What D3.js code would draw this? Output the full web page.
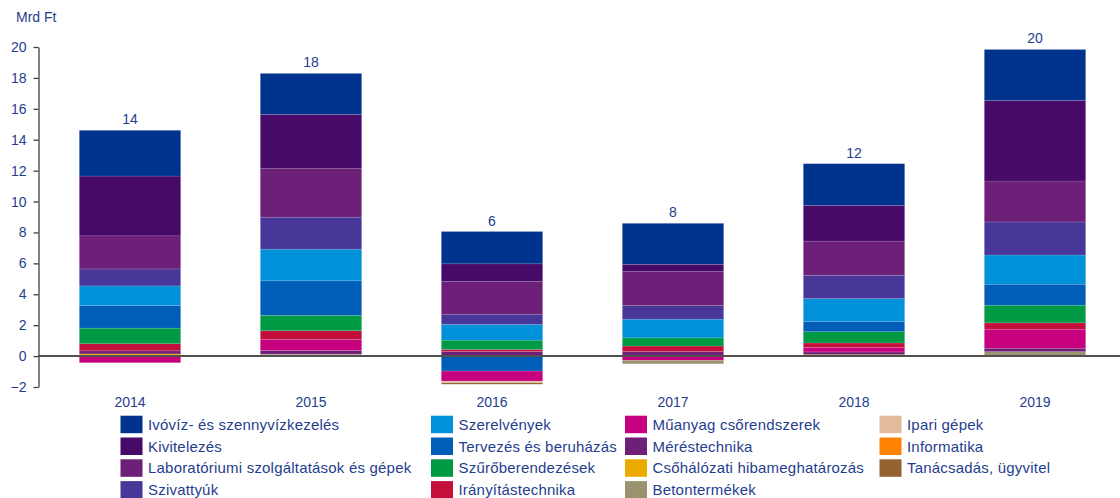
<!DOCTYPE html>
<html>
<head>
<meta charset="utf-8">
<script src="https://cdn.jsdelivr.net/npm/d3@7"></script>
<style>
	body { margin: 0; background: #fff; }
	svg { display: block; font-family: "Liberation Sans", Arial, sans-serif; }
</style>
</head>
<body>
<div id="chart"></div>
<script>
// years on the x axis
let years = ["2014", "2015", "2016", "2017", "2018", "2019"];

// series names, legend order (column by column)
let seriesNames = [
	"Ivóvíz- és szennyvízkezelés",
	"Kivitelezés",
	"Laboratóriumi szolgáltatások és gépek",
	"Szivattyúk",
	"Szerelvények",
	"Tervezés és beruházás",
	"Szűrőberendezések",
	"Irányítástechnika",
	"Műanyag csőrendszerek",
	"Méréstechnika",
	"Csőhálózati hibameghatározás",
	"Betontermékek",
	"Ipari gépek",
	"Informatika",
	"Tanácsadás, ügyvitel"
];

// values per series, Mrd Ft, 2014..2019
let ivoviz      = [2.96, 2.65, 2.09, 2.65, 2.70, 3.30];
let kivitelezes = [3.87, 3.51, 1.14, 0.45, 2.31, 5.21];
let labor       = [2.14, 3.14, 2.12, 2.22, 2.21, 2.65];
let szivattyuk  = [1.10, 2.07, 0.66, 0.88, 1.51, 2.14];
let szerelvenyek = [1.26, 2.05, 1.02, 1.21, 1.47, 1.89];
let tervezes    = [1.47, 2.24, -0.97, 0, 0.67, 1.36];
let szuro       = [1.01, 0.99, 0.60, 0.53, 0.73, 1.14];
let iranyitas   = [0.46, 0.56, 0.13, 0.35, 0.30, 0.41];
let muanyag     = [-0.43, 0.71, -0.65, -0.28, 0.28, 1.23];
let meres       = [0.20, 0.24, 0.30, 0.30, 0.15, 0.22];
let csohalozati = [0.12, 0, 0, 0, 0, 0];
let beton       = [0.02, 0.05, 0, -0.22, 0, 0.25];
let ipari       = [0, 0, -0.11, 0, 0, 0.04];
let informatika = [0, 0, 0, 0, 0, 0];
let tanacsadas  = [0, 0.08, -0.09, 0, 0.12, 0];

let seriesValues = [ivoviz, kivitelezes, labor, szivattyuk, szerelvenyek, tervezes,
	szuro, iranyitas, muanyag, meres, csohalozati, beton, ipari, informatika, tanacsadas];

let yTicks = [-2, 0, 2, 4, 6, 8, 10, 12, 14, 16, 18, 20];

let colours = ["#00338D", "#470A68", "#6D2077", "#483698", "#0091DA", "#005EB8",
	"#009A44", "#C40F3D", "#C6007E", "#6E2077", "#EAAA00", "#9B9270", "#E3BA9C",
	"#FF8200", "#956130"];

let textColour = "#1F3E8E";

// rows for d3.stack
let data = years.map(function (yr, i) {
	let row = { year: yr };
	seriesNames.forEach(function (s, j) { row[s] = seriesValues[j][i]; });
	return row;
});

let width = 1120, height = 498;
let svg = d3.select("#chart").append("svg")
	.attr("width", width)
	.attr("height", height);

let x = d3.scaleBand().domain(years).range([39.5, 1125.5]).paddingInner(0.44).paddingOuter(0.22);
let y = d3.scaleLinear().domain([-2, 20]).range([387, 47]);

let colour = d3.scaleOrdinal().domain(seriesNames).range(colours);

// positives stack from zero upward (last legend item at bottom), negatives downward in legend order
let posStack = d3.stack()
	.keys(seriesNames.slice().reverse())
	.value(function (d, k) { return Math.max(0, d[k]); })(data);
let negStack = d3.stack()
	.keys(seriesNames)
	.value(function (d, k) { return Math.min(0, d[k]); })(data);

let layers = posStack.concat(negStack);

let g = svg.append("g");

layers.forEach(function (layer) {
	g.selectAll(null)
		.data(layer.filter(function (d) { return d[1] !== d[0]; }))
		.enter().append("rect")
		.attr("x", function (d) { return x(d.data.year); })
		.attr("width", x.bandwidth())
		.attr("y", function (d) { return y(Math.max(d[0], d[1])); })
		.attr("height", function (d) { return Math.abs(y(d[0]) - y(d[1])); })
		.attr("fill", colour(layer.key))
		.attr("stroke", "#ffffff")
		.attr("stroke-opacity", 0.2)
		.attr("stroke-width", 0.6);
});

// totals above bars
let posTop = posStack[posStack.length - 1];
svg.append("g").selectAll("text")
	.data(data)
	.enter().append("text")
	.attr("x", function (d) { return x(d.year) + x.bandwidth() / 2; })
	.attr("y", function (d, i) { return y(posTop[i][1]) - 6; })
	.attr("text-anchor", "middle")
	.attr("font-size", 14)
	.attr("fill", textColour)
	.text(function (d) { return d3.format(".0f")(d3.sum(seriesNames, function (s) { return d[s]; })); });

// y axis
let yAxis = svg.append("g")
	.attr("transform", "translate(38.5,0)")
	.call(d3.axisLeft(y).tickValues(yTicks).tickSize(5).tickSizeOuter(0).tickPadding(7));
yAxis.select(".domain").attr("stroke", "#404040").attr("stroke-width", 1.3);
yAxis.selectAll(".tick line").attr("stroke", "#404040").attr("stroke-width", 1.3);
yAxis.selectAll(".tick text")
	.attr("font-size", 14)
	.attr("font-family", "Liberation Sans, Arial, sans-serif")
	.attr("fill", textColour);

// zero line
svg.append("line")
	.attr("x1", 38)
	.attr("x2", width)
	.attr("y1", y(0))
	.attr("y2", y(0))
	.attr("stroke", "#505050")
	.attr("stroke-width", 2);

// year labels
svg.append("g").selectAll("text")
	.data(years)
	.enter().append("text")
	.attr("x", function (d) { return x(d) + x.bandwidth() / 2; })
	.attr("y", 407)
	.attr("text-anchor", "middle")
	.attr("font-size", 14)
	.attr("fill", textColour)
	.text(function (d) { return d; });

// unit
svg.append("text")
	.attr("x", 16)
	.attr("y", 22)
	.attr("font-size", 14)
	.attr("fill", textColour)
	.text("Mrd Ft");

// legend, 4 rows per column
let legendCols = [120.5, 431, 625, 879.5];
let legend = svg.append("g").selectAll("g")
	.data(seriesNames)
	.enter().append("g")
	.attr("transform", function (d, i) {
		return "translate(" + legendCols[Math.floor(i / 4)] + "," + (415.7 + (i % 4) * 21.8) + ")";
	});

legend.append("rect")
	.attr("width", 22)
	.attr("height", 17.5)
	.attr("fill", function (d) { return colour(d); });

legend.append("text")
	.attr("x", 27.5)
	.attr("y", 14.2)
	.attr("font-size", 15)
	.attr("letter-spacing", 0.2)
	.attr("fill", textColour)
	.text(function (d) { return d; });
</script>
</body>
</html>
